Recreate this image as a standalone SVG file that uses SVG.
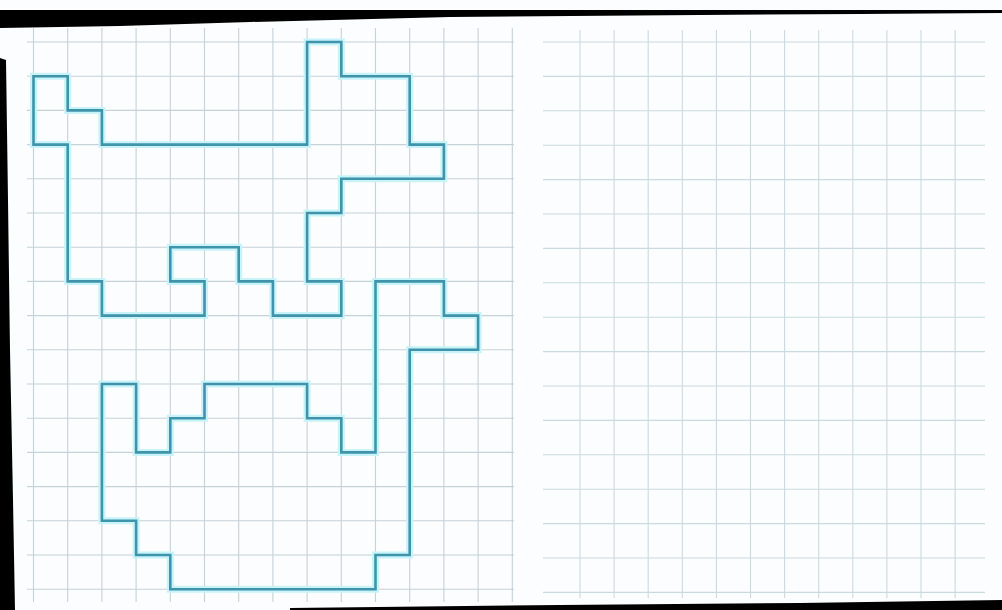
<svg xmlns="http://www.w3.org/2000/svg" width="1002" height="610" viewBox="0 0 1002 610">
  <style>
    .grid line { stroke: #c5d2d8; stroke-width: 1.1; }
    #right-grid line { stroke: #cbdadf; }
    .glow { fill: none; stroke: #c8f3f9; stroke-width: 7; stroke-linejoin: miter; }
    .shape { fill: none; stroke: #3f94ab; stroke-width: 2.6; stroke-linejoin: miter; }
  </style>
  <rect x="0" y="0" width="1002" height="610" fill="#fbfdfe"/>

  <g id="left-grid" class="grid">
    <line x1="33.5" y1="28" x2="33.5" y2="602"/>
    <line x1="67.7" y1="28" x2="67.7" y2="602"/>
    <line x1="101.9" y1="28" x2="101.9" y2="602"/>
    <line x1="136.1" y1="28" x2="136.1" y2="602"/>
    <line x1="170.3" y1="28" x2="170.3" y2="602"/>
    <line x1="204.5" y1="28" x2="204.5" y2="602"/>
    <line x1="238.7" y1="28" x2="238.7" y2="602"/>
    <line x1="272.9" y1="28" x2="272.9" y2="602"/>
    <line x1="307.1" y1="28" x2="307.1" y2="602"/>
    <line x1="341.3" y1="28" x2="341.3" y2="602"/>
    <line x1="375.5" y1="28" x2="375.5" y2="602"/>
    <line x1="409.7" y1="28" x2="409.7" y2="602"/>
    <line x1="443.9" y1="28" x2="443.9" y2="602"/>
    <line x1="478.1" y1="28" x2="478.1" y2="602"/>
    <line x1="512.3" y1="28" x2="512.3" y2="602"/>
    <line x1="27" y1="42" x2="514" y2="42"/>
    <line x1="27" y1="76.2" x2="514" y2="76.2"/>
    <line x1="27" y1="110.4" x2="514" y2="110.4"/>
    <line x1="27" y1="144.6" x2="514" y2="144.6"/>
    <line x1="27" y1="178.8" x2="514" y2="178.8"/>
    <line x1="27" y1="213" x2="514" y2="213"/>
    <line x1="27" y1="247.2" x2="514" y2="247.2"/>
    <line x1="27" y1="281.4" x2="514" y2="281.4"/>
    <line x1="27" y1="315.6" x2="514" y2="315.6"/>
    <line x1="27" y1="349.8" x2="514" y2="349.8"/>
    <line x1="27" y1="384" x2="514" y2="384"/>
    <line x1="27" y1="418.2" x2="514" y2="418.2"/>
    <line x1="27" y1="452.4" x2="514" y2="452.4"/>
    <line x1="27" y1="486.6" x2="514" y2="486.6"/>
    <line x1="27" y1="520.8" x2="514" y2="520.8"/>
    <line x1="27" y1="555" x2="514" y2="555"/>
    <line x1="27" y1="589.2" x2="514" y2="589.2"/>
  </g>

  <g id="right-grid" class="grid">
    <line x1="580" y1="30" x2="580" y2="598"/>
    <line x1="614.1" y1="30" x2="614.1" y2="598"/>
    <line x1="648.2" y1="30" x2="648.2" y2="598"/>
    <line x1="682.3" y1="30" x2="682.3" y2="598"/>
    <line x1="716.4" y1="30" x2="716.4" y2="598"/>
    <line x1="750.5" y1="30" x2="750.5" y2="598"/>
    <line x1="784.6" y1="30" x2="784.6" y2="598"/>
    <line x1="818.7" y1="30" x2="818.7" y2="598"/>
    <line x1="852.8" y1="30" x2="852.8" y2="598"/>
    <line x1="886.9" y1="30" x2="886.9" y2="598"/>
    <line x1="921" y1="30" x2="921" y2="598"/>
    <line x1="955.1" y1="30" x2="955.1" y2="598"/>
    <line x1="543" y1="42" x2="985" y2="42"/>
    <line x1="543" y1="76.4" x2="985" y2="76.4"/>
    <line x1="543" y1="110.8" x2="985" y2="110.8"/>
    <line x1="543" y1="145.2" x2="985" y2="145.2"/>
    <line x1="543" y1="179.6" x2="985" y2="179.6"/>
    <line x1="543" y1="214" x2="985" y2="214"/>
    <line x1="543" y1="248.4" x2="985" y2="248.4"/>
    <line x1="543" y1="282.8" x2="985" y2="282.8"/>
    <line x1="543" y1="317.2" x2="985" y2="317.2"/>
    <line x1="543" y1="351.6" x2="985" y2="351.6"/>
    <line x1="543" y1="386" x2="985" y2="386"/>
    <line x1="543" y1="420.4" x2="985" y2="420.4"/>
    <line x1="543" y1="454.8" x2="985" y2="454.8"/>
    <line x1="543" y1="489.2" x2="985" y2="489.2"/>
    <line x1="543" y1="523.6" x2="985" y2="523.6"/>
    <line x1="543" y1="558" x2="985" y2="558"/>
    <line x1="543" y1="592.4" x2="985" y2="592.4"/>
  </g>

  <g id="figure-top">
    <polygon class="glow" points="33.5,76.2 67.7,76.2 67.7,110.4 101.9,110.4 101.9,144.6 307.1,144.6 307.1,42 341.3,42 341.3,76.2 409.7,76.2 409.7,144.6 443.9,144.6 443.9,178.8 341.3,178.8 341.3,213 307.1,213 307.1,281.4 341.3,281.4 341.3,315.6 272.9,315.6 272.9,281.4 238.7,281.4 238.7,247.2 170.3,247.2 170.3,281.4 204.5,281.4 204.5,315.6 101.9,315.6 101.9,281.4 67.7,281.4 67.7,144.6 33.5,144.6"/>
    <polygon class="shape" points="33.5,76.2 67.7,76.2 67.7,110.4 101.9,110.4 101.9,144.6 307.1,144.6 307.1,42 341.3,42 341.3,76.2 409.7,76.2 409.7,144.6 443.9,144.6 443.9,178.8 341.3,178.8 341.3,213 307.1,213 307.1,281.4 341.3,281.4 341.3,315.6 272.9,315.6 272.9,281.4 238.7,281.4 238.7,247.2 170.3,247.2 170.3,281.4 204.5,281.4 204.5,315.6 101.9,315.6 101.9,281.4 67.7,281.4 67.7,144.6 33.5,144.6"/>
  </g>

  <g id="figure-bottom">
    <polygon class="glow" points="375.5,281.4 443.9,281.4 443.9,315.6 478.1,315.6 478.1,349.8 409.7,349.8 409.7,555 375.5,555 375.5,589.2 170.3,589.2 170.3,555 136.1,555 136.1,520.8 101.9,520.8 101.9,384 136.1,384 136.1,452.4 170.3,452.4 170.3,418.2 204.5,418.2 204.5,384 307.1,384 307.1,418.2 341.3,418.2 341.3,452.4 375.5,452.4"/>
    <polygon class="shape" points="375.5,281.4 443.9,281.4 443.9,315.6 478.1,315.6 478.1,349.8 409.7,349.8 409.7,555 375.5,555 375.5,589.2 170.3,589.2 170.3,555 136.1,555 136.1,520.8 101.9,520.8 101.9,384 136.1,384 136.1,452.4 170.3,452.4 170.3,418.2 204.5,418.2 204.5,384 307.1,384 307.1,418.2 341.3,418.2 341.3,452.4 375.5,452.4"/>
  </g>

  <g id="page-edges" fill="#000">
    <polygon points="0,10 1002,10 1002,13 860,14 700,15 450,17 250,22 120,26 0,28"/>
    <polygon points="0,58 6,60 8,200 10,350 13,500 15,610 0,610"/>
    <polygon points="290,608 560,605 800,603 1002,600 1002,610 290,610"/>
  </g>
</svg>
